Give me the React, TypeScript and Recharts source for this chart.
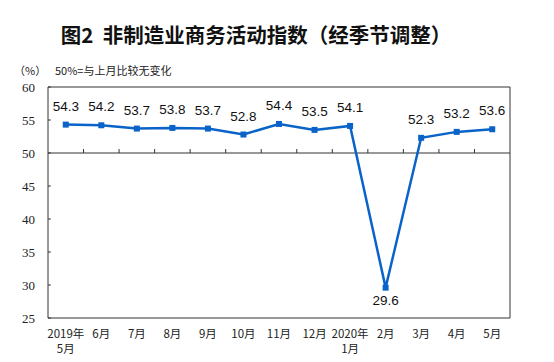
import { LineChart, Line, XAxis, YAxis, ReferenceArea, ReferenceLine, LabelList } from "recharts";

const months = ["2019年\n5月", "6月", "7月", "8月", "9月", "10月", "11月", "12月", "2020年\n1月", "2月", "3月", "4月", "5月"];
const index = [54.3, 54.2, 53.7, 53.8, 53.7, 52.8, 54.4, 53.5, 54.1, 29.6, 52.3, 53.2, 53.6];
const yTicks = [25, 30, 35, 40, 45, 50, 55, 60];

const data = index.map((v, i) => ({ i, v }));
const blue = "#0a63c9";

const XTick = (props: any) => {
  const { x, y, payload } = props;
  const lines = String(months[payload.value] ?? "").split("\n");
  return (
    <g>
      {lines.map((t, k) => (
        <text key={k} x={x} y={y + 20 + k * 15} textAnchor="middle" fontSize={11.5}
          fontFamily="'Noto Sans CJK SC', sans-serif" fill="#222">
          {t}
        </text>
      ))}
    </g>
  );
};

const YTick = (props: any) => {
  const { x, y, payload } = props;
  return (
    <text x={x} y={y + 4.5} textAnchor="end" fontSize={13} fontFamily="'Liberation Serif', serif" fill="#222">
      {payload.value}
    </text>
  );
};

const ValueLabel = (props: any) => {
  const { x, y, value } = props;
  const below = value < 50;
  return (
    <text x={x} y={below ? y + 17 : y - 14} textAnchor="middle" fontSize={13.5}
      fontFamily="'Liberation Sans', Arial, sans-serif" fill="#111">
      {value}
    </text>
  );
};

const Square = (props: any) => {
  const { cx, cy } = props;
  return <rect x={cx - 3} y={cy - 3} width={6} height={6} fill={blue} />;
};

export default function App() {
  return (
    <div style={{ position: "absolute", left: 0, top: 0, width: 554, height: 362, background: "#fff" }}>
      <div style={{ position: "absolute", left: 0, width: 512, top: 20, textAlign: "center", fontSize: 20.5, fontWeight: 700,
        fontFamily: "'Noto Sans CJK SC', sans-serif", lineHeight: "28px", color: "#111" }}>
        图2&nbsp;&nbsp;非制造业商务活动指数（经季节调整）
      </div>
      <div style={{ position: "absolute", left: 14, top: 62, fontSize: 11, fontFamily: "'Noto Sans CJK SC', sans-serif",
        lineHeight: "16px", color: "#222" }}>
        （%）
      </div>
      <div style={{ position: "absolute", left: 55, top: 62, fontSize: 11, fontFamily: "'Noto Sans CJK SC', sans-serif",
        lineHeight: "16px", color: "#222" }}>
        50%=与上月比较无变化
      </div>
      <div style={{ position: "absolute", left: 0, top: 0 }}>
        <LineChart width={554} height={362} data={data} margin={{ top: 87, right: 44, bottom: 0, left: 13 }}>
          <XAxis dataKey="i" type="number" domain={[-0.5, 12.5]} ticks={months.map((_, i) => i)} interval={0}
            axisLine={false} tickLine={false} tickSize={0} tickMargin={0} tick={<XTick />} height={44} />
          <YAxis type="number" domain={[25, 60]} ticks={yTicks} axisLine={false} tickLine={false}
            tickSize={0} tickMargin={13} width={35} tick={<YTick />} />
          <ReferenceArea x1={-0.5} x2={12.5} y1={25} y2={60} fill="none" stroke="#333" strokeWidth={1} fillOpacity={0} />
          <ReferenceLine y={50} stroke="#333" strokeWidth={1} />
          {yTicks.map((t) => (
            <ReferenceLine key={"y" + t} segment={[{ x: -0.5, y: t }, { x: -0.42, y: t }]} stroke="#333" />
          ))}
          {months.slice(1).map((_, k) => (
            <ReferenceLine key={"x" + k} segment={[{ x: k + 0.5, y: 50 }, { x: k + 0.5, y: 50.6 }]} stroke="#333" />
          ))}
          <Line dataKey="v" stroke={blue} strokeWidth={2.5} dot={<Square />} activeDot={false} isAnimationActive={false}>
            <LabelList dataKey="v" content={<ValueLabel />} />
          </Line>
        </LineChart>
      </div>
    </div>
  );
}
